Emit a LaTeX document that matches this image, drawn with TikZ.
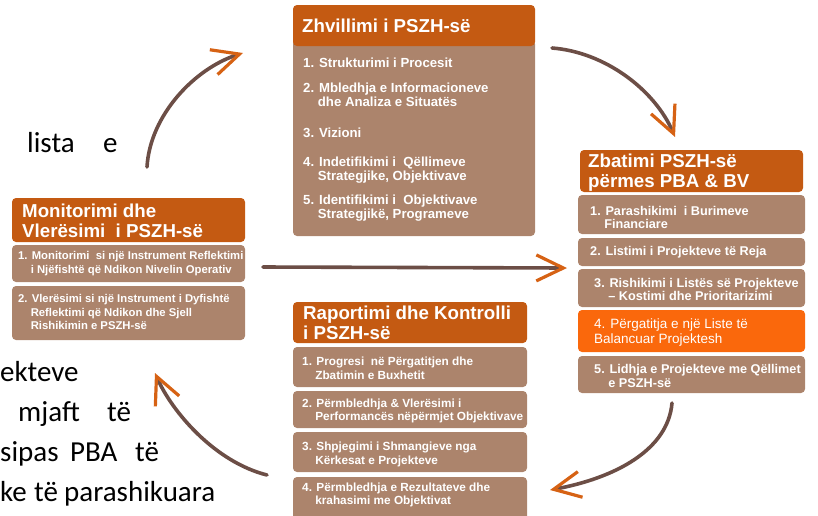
\documentclass[tikz,border=0pt]{standalone}
\usepackage{fontspec}
\setmainfont{Liberation Sans}
\newfontfamily\bgfont{Carlito}
\usetikzlibrary{arrows.meta}

\definecolor{hdrorange}{RGB}{196,90,18}
\definecolor{bodybrown}{RGB}{172,132,108}
\definecolor{hiorange}{RGB}{250,104,12}
\definecolor{shaftbrown}{RGB}{108,78,70}
\definecolor{tiporange}{RGB}{214,98,20}

\tikzset{
  box/.style={anchor=north west, inner sep=0pt, outer sep=0pt, rounded corners=4pt},
  headbox/.style={box, fill=hdrorange},
  bodybox/.style={box, fill=bodybrown},
  hibox/.style={box, fill=hiorange},
  headtext/.style={anchor=west, inner sep=0pt, text=white, align=left,
    font=\bfseries\fontsize{18.7}{19.5}\selectfont},
  itemtext/.style={anchor=west, inner sep=0pt, text=white, align=left,
    font=\bfseries\fontsize{12.7}{13.5}\selectfont},
  toptext/.style={itemtext, font=\bfseries\fontsize{13.2}{14}\selectfont},
  smalltext/.style={itemtext, font=\bfseries\fontsize{11.3}{13.5}\selectfont},
  midtext/.style={itemtext, font=\bfseries\fontsize{11.8}{13.5}\selectfont},
  hitext/.style={itemtext, font=\fontsize{13.5}{15}\selectfont},
  bgword/.style={anchor=base west, inner sep=0pt, font=\bgfont\fontsize{29}{30}\selectfont},
  flow/.style={line width=3.6pt, draw=shaftbrown, line cap=round,
    -{Straight Barb[length=27pt,width=26pt,line width=3.2pt,color=tiporange]}},
}

\begin{document}
\begin{tikzpicture}[x=1pt,y=-1pt]
\useasboundingbox (0,0) rectangle (818,515);

% words of the paragraph behind the cycle
\node[bgword] (w1) at (27,152) {lista};
\node[bgword] (w2) at (103,152) {e};
\node[bgword] (w3) at (0,381) {ekteve};
\node[bgword] (w4) at (18,421) {mjaft};
\node[bgword] (w5) at (107,421) {të};
\node[bgword] (w6) at (0,461) {sipas};
\node[bgword] (w7) at (70,461) {PBA};
\node[bgword] (w8) at (135,461) {të};
\node[bgword] (w9) at (0,501) {ke};
\node[bgword] (w10) at (34,501) {të};
\node[bgword] (w11) at (64,501) {parashikuara};

% ---- Zhvillimi (top)
\node[bodybox, minimum width=242pt, minimum height=196pt] (zhbody) at (293,40) {};
\node[headbox, minimum width=242pt, minimum height=41pt] (zh) at (293,5) {};
\node[headtext] (zht) at (302,26) {Zhvillimi i PSZH-së};
\node[toptext] (zh1) at (303,63) {1. Strukturimi i Procesit};
\node[toptext] (zh2) at (303,95) {2. Mbledhja e Informacioneve\\\phantom{2.~}dhe Analiza e Situatës};
\node[toptext] (zh3) at (303,133) {3. Vizioni};
\node[toptext] (zh4) at (303,170) {4. Indetifikimi i~ Qëllimeve\\\phantom{4.~}Strategjike, Objektivave};
\node[toptext] (zh5) at (303,208) {5. Identifikimi i~ Objektivave\\\phantom{5.~}Strategjikë, Programeve};

% ---- Zbatimi (right)
\node[headbox, minimum width=223pt, minimum height=42pt] (zb) at (580,150) {};
\node[headtext] (zbt) at (588,172.5) {Zbatimi PSZH-së\\përmes PBA \& BV};
\node[bodybox, minimum width=227pt, minimum height=39pt] (zb1) at (578,195) {};
\node[bodybox, minimum width=227pt, minimum height=28pt] (zb2) at (578,238) {};
\node[bodybox, minimum width=227pt, minimum height=38pt] (zb3) at (578,269) {};
\node[hibox,   minimum width=227pt, minimum height=42pt] (zb4) at (578,310) {};
\node[bodybox, minimum width=227pt, minimum height=37pt] (zb5) at (578,356) {};
\node[itemtext] (zb1t) at (590,217.5) {1. Parashikimi~ i Burimeve\\\phantom{1.~}Financiare};
\node[itemtext] (zb2t) at (590,252.5) {2. Listimi i Projekteve të Reja};
\node[itemtext] (zb3t) at (594,289.5) {3. Rishikimi i Listës së Projekteve\\\phantom{3.~}– Kostimi dhe Prioritarizimi};
\node[hitext]   (zb4t) at (594,332.5) {4. Përgatitja e një Liste të\\Balancuar Projektesh};
\node[itemtext] (zb5t) at (594,376) {5. Lidhja e Projekteve me Qëllimet\\\phantom{5.~}e PSZH-së};

% ---- Monitorimi (left)
\node[headbox, minimum width=233pt, minimum height=44pt] (mv) at (12,198) {};
\node[headtext] (mvt) at (22,221) {Monitorimi dhe\\Vlerësimi~ i PSZH-së};
\node[bodybox, minimum width=233pt, minimum height=37pt] (mv1) at (12,245) {};
\node[bodybox, minimum width=233pt, minimum height=54pt] (mv2) at (12,286) {};
\node[smalltext] (mv1t) at (18,263.5) {1. Monitorimi~ si një Instrument Reflektimi\\\phantom{1.~}i Njëfishtë që Ndikon Nivelin Operativ};
\node[smalltext] (mv2t) at (18,312) {2. Vlerësimi si një Instrument i Dyfishtë\\\phantom{2.~}Reflektimi që Ndikon dhe Sjell\\\phantom{2.~}Rishikimin e PSZH-së};

% ---- Raportimi (bottom)
\node[headbox, minimum width=234pt, minimum height=41pt] (rk) at (293,302) {};
\node[headtext] (rkt) at (303,323) {Raportimi dhe Kontrolli\\i PSZH-së};
\node[bodybox, minimum width=234pt, minimum height=40pt] (rk1) at (293,347) {};
\node[bodybox, minimum width=234pt, minimum height=37pt] (rk2) at (293,391) {};
\node[bodybox, minimum width=234pt, minimum height=40pt] (rk3) at (293,432) {};
\node[bodybox, minimum width=234pt, minimum height=45pt] (rk4) at (293,477) {};
\node[midtext] (rk1t) at (302,368.5) {1. Progresi~ në Përgatitjen dhe\\\phantom{1.~}Zbatimin e Buxhetit};
\node[midtext] (rk2t) at (302,411) {2. Përmbledhja \& Vlerësimi i\\\phantom{2.~}Performancës nëpërmjet Objektivave};
\node[midtext] (rk3t) at (302,454.5) {3. Shpjegimi i Shmangieve nga\\\phantom{3.~}Kërkesat e Projekteve};
\node[midtext] (rk4t) at (302,495) {4. Përmbledhja e Rezultateve dhe\\\phantom{4.~}krahasimi me Objektivat};

% ---- cycle arrows
\coordinate (a1s) at (147,167);  \coordinate (a1e) at (243,53);
\coordinate (a2s) at (552,48);   \coordinate (a2e) at (675,137);
\coordinate (a3s) at (263,267);  \coordinate (a3e) at (567,268);
\coordinate (a4s) at (672,403);  \coordinate (a4e) at (550,490);
\coordinate (a5s) at (267,475);  \coordinate (a5e) at (155,373);

\draw[flow] (a1s) .. controls (150,115) and (195,68) .. (a1e);
\draw[flow] (a2s) .. controls (605,52) and (655,90) .. (a2e);
\draw[flow] (a3s) -- (a3e);
\draw[flow] (a4s) .. controls (668,450) and (615,478) .. (a4e);
\draw[flow] (a5s) .. controls (215,462) and (172,412) .. (a5e);
\end{tikzpicture}
\end{document}
